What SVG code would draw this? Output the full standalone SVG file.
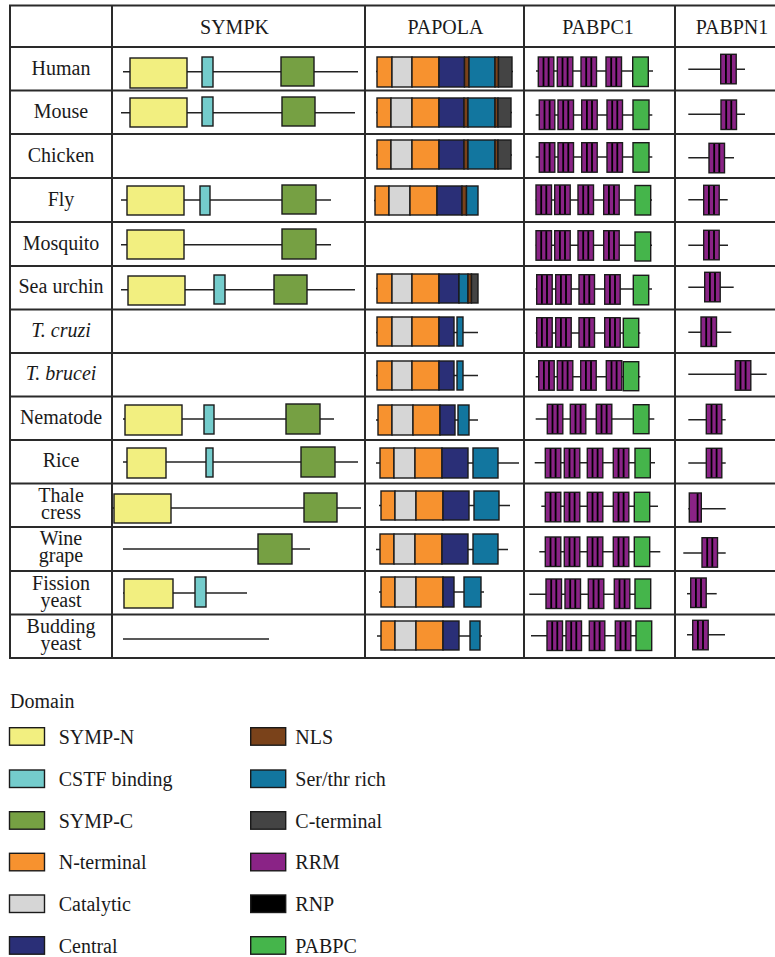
<svg xmlns="http://www.w3.org/2000/svg" xmlns:xlink="http://www.w3.org/1999/xlink" width="775" height="957" viewBox="0 0 775 957">
<style>
.t{font-family:"Liberation Serif","Times New Roman",serif;font-size:20px;fill:#1a1a1a}
.c{text-anchor:middle}
.i{font-style:italic}
.grid line{stroke:#2a2a2a;stroke-width:2}
.ln{stroke:#222;stroke-width:1.5}
rect.d{stroke:#1a1a1a;stroke-width:1.4}
.yn{fill:#f2ef80}.cy{fill:#74cccc}.gr{fill:#76a043}.or{fill:#f7922f}.ct{fill:#d6d6d6}.nv{fill:#2a2f77}
.br{fill:#7a421a}.tl{fill:#12769f}.dk{fill:#444444}.pu{fill:#8a2386}.bk{fill:#000}.pg{fill:#45b54b}
</style>
<defs>
<g id="rrm">
<rect class="d pu" x="0" y="0" width="15.5" height="29.5"/>
<rect class="bk" x="4.3" y="0.5" width="1.8" height="28.5"/>
<rect class="bk" x="9.4" y="0.5" width="1.8" height="28.5"/>
</g>
</defs>

<g id="grid" class="grid">
<line x1="9" y1="5.5" x2="775" y2="5.5"/>
<line x1="9" y1="47" x2="775" y2="47"/>
<line x1="9" y1="90.5" x2="775" y2="90.5"/>
<line x1="9" y1="134" x2="775" y2="134"/>
<line x1="9" y1="178" x2="775" y2="178"/>
<line x1="9" y1="222" x2="775" y2="222"/>
<line x1="9" y1="266" x2="775" y2="266"/>
<line x1="9" y1="309.5" x2="775" y2="309.5"/>
<line x1="9" y1="353" x2="775" y2="353"/>
<line x1="9" y1="396.5" x2="775" y2="396.5"/>
<line x1="9" y1="440" x2="775" y2="440"/>
<line x1="9" y1="483.5" x2="775" y2="483.5"/>
<line x1="9" y1="527" x2="775" y2="527"/>
<line x1="9" y1="571" x2="775" y2="571"/>
<line x1="9" y1="614.5" x2="775" y2="614.5"/>
<line x1="9" y1="658" x2="775" y2="658"/>
<line x1="10" y1="5.5" x2="10" y2="658"/>
<line x1="112" y1="5.5" x2="112" y2="658"/>
<line x1="365" y1="5.5" x2="365" y2="658"/>
<line x1="524" y1="5.5" x2="524" y2="658"/>
<line x1="675" y1="5.5" x2="675" y2="658"/>
</g>

<g id="headers" class="t c">
<text x="234.5" y="34">SYMPK</text>
<text x="445.5" y="34">PAPOLA</text>
<text x="598" y="34">PABPC1</text>
<text x="732" y="34">PABPN1</text>
</g>

<g id="species" class="t c">
<text x="61" y="75">Human</text>
<text x="61" y="118">Mouse</text>
<text x="61" y="162">Chicken</text>
<text x="61" y="206">Fly</text>
<text x="61" y="249.5">Mosquito</text>
<text x="61" y="293">Sea urchin</text>
<text x="61" y="336.5" class="i">T. cruzi</text>
<text x="61" y="380" class="i">T. brucei</text>
<text x="61" y="423.5">Nematode</text>
<text x="61" y="467">Rice</text>
<text x="61" y="502">Thale<tspan x="61" dy="17">cress</tspan></text>
<text x="61" y="545">Wine<tspan x="61" dy="17">grape</tspan></text>
<text x="61" y="590">Fission<tspan x="61" dy="17">yeast</tspan></text>
<text x="61" y="633">Budding<tspan x="61" dy="17">yeast</tspan></text>
</g>

<g id="sympk">
<g id="sympk-human"><line class="ln" x1="123" y1="71.7" x2="358" y2="71.7"/><rect class="d yn" x="130" y="58" width="57" height="30"/><rect class="d cy" x="202" y="57" width="11" height="30"/><rect class="d gr" x="281" y="57" width="33" height="29"/></g>
<g id="sympk-mouse"><line class="ln" x1="121" y1="112.7" x2="355" y2="112.7"/><rect class="d yn" x="130" y="98" width="57" height="29"/><rect class="d cy" x="202" y="97" width="11" height="29"/><rect class="d gr" x="282" y="97" width="33" height="29"/></g>
<g id="sympk-fly"><line class="ln" x1="121" y1="200" x2="331" y2="200"/><rect class="d yn" x="127" y="186" width="57" height="29"/><rect class="d cy" x="200" y="186" width="10" height="29"/><rect class="d gr" x="282" y="185" width="34" height="29"/></g>
<g id="sympk-mosquito"><line class="ln" x1="121" y1="244.7" x2="331" y2="244.7"/><rect class="d yn" x="127" y="230" width="57" height="29"/><rect class="d gr" x="282" y="229" width="34" height="30"/></g>
<g id="sympk-seaurchin"><line class="ln" x1="121" y1="289.7" x2="355" y2="289.7"/><rect class="d yn" x="128" y="276" width="57" height="29"/><rect class="d cy" x="214" y="275" width="11" height="29"/><rect class="d gr" x="274" y="275" width="33" height="29"/></g>
<g id="sympk-nematode"><line class="ln" x1="123" y1="419" x2="334" y2="419"/><rect class="d yn" x="125" y="405" width="57" height="30"/><rect class="d cy" x="204" y="405" width="10" height="29"/><rect class="d gr" x="286" y="404" width="34" height="30"/></g>
<g id="sympk-rice"><line class="ln" x1="123" y1="462" x2="358" y2="462"/><rect class="d yn" x="127" y="448" width="39" height="30"/><rect class="d cy" x="206" y="448" width="7" height="29"/><rect class="d gr" x="301" y="447" width="34" height="30"/></g>
<g id="sympk-thale"><line class="ln" x1="112" y1="508" x2="361" y2="508"/><rect class="d yn" x="114" y="494" width="57" height="29"/><rect class="d gr" x="304" y="493" width="33" height="29"/></g>
<g id="sympk-wine"><line class="ln" x1="123" y1="549" x2="310" y2="549"/><rect class="d gr" x="258" y="534" width="34" height="30"/></g>
<g id="sympk-fission"><line class="ln" x1="123" y1="593" x2="247" y2="593"/><rect class="d yn" x="124" y="579" width="49" height="29"/><rect class="d cy" x="195" y="577" width="11" height="30"/></g>
<g id="sympk-budding"><line class="ln" x1="123" y1="639" x2="269" y2="639"/></g>
</g>

<g id="papola">
<g id="papola-human"><line class="ln" x1="376" y1="71.5" x2="513" y2="71.5"/>
<rect class="d or" x="377" y="57" width="15" height="30"/><rect class="d ct" x="392" y="57" width="20" height="30"/><rect class="d or" x="412" y="57" width="27" height="30"/><rect class="d nv" x="439" y="57" width="25.5" height="30"/><rect class="d br" x="464.5" y="57" width="4.5" height="30"/><rect class="d tl" x="469" y="57" width="26" height="30"/><rect class="d br" x="495" y="57" width="3.5" height="30"/><rect class="d dk" x="498.5" y="57" width="13.5" height="30"/></g>
<g id="papola-mouse"><line class="ln" x1="376" y1="112.5" x2="512" y2="112.5"/>
<rect class="d or" x="377" y="98" width="14" height="29"/><rect class="d ct" x="391" y="98" width="21" height="29"/><rect class="d or" x="412" y="98" width="27" height="29"/><rect class="d nv" x="439" y="98" width="25" height="29"/><rect class="d br" x="464" y="98" width="4" height="29"/><rect class="d tl" x="468" y="98" width="27" height="29"/><rect class="d br" x="495" y="98" width="3" height="29"/><rect class="d dk" x="498" y="98" width="13" height="29"/></g>
<g id="papola-chicken"><line class="ln" x1="376" y1="155" x2="512" y2="155"/>
<rect class="d or" x="377" y="140" width="14" height="29"/><rect class="d ct" x="391" y="140" width="21" height="29"/><rect class="d or" x="412" y="140" width="27" height="29"/><rect class="d nv" x="439" y="140" width="25" height="29"/><rect class="d br" x="464" y="140" width="4" height="29"/><rect class="d tl" x="468" y="140" width="27" height="29"/><rect class="d br" x="495" y="140" width="3" height="29"/><rect class="d dk" x="498" y="140" width="13" height="29"/></g>
<g id="papola-fly"><line class="ln" x1="374" y1="200.5" x2="478" y2="200.5"/>
<rect class="d or" x="375" y="186" width="14" height="29"/><rect class="d ct" x="389" y="186" width="21" height="29"/><rect class="d or" x="410" y="186" width="27" height="29"/><rect class="d nv" x="437" y="186" width="25" height="29"/><rect class="d br" x="462" y="186" width="4.5" height="29"/><rect class="d tl" x="466.5" y="186" width="11.5" height="29"/></g>
<g id="papola-seaurchin"><line class="ln" x1="376" y1="288.5" x2="478" y2="288.5"/>
<rect class="d or" x="377" y="274" width="15" height="29"/><rect class="d ct" x="392" y="274" width="20" height="29"/><rect class="d or" x="412" y="274" width="27" height="29"/><rect class="d nv" x="439" y="274" width="20" height="29"/><rect class="d tl" x="459" y="274" width="9" height="29"/><rect class="d br" x="468" y="274" width="3.5" height="29"/><rect class="d dk" x="471.5" y="274" width="6.5" height="29"/></g>
<g id="papola-tcruzi"><line class="ln" x1="376" y1="332.5" x2="478" y2="332.5"/>
<rect class="d or" x="377" y="317" width="15" height="29"/><rect class="d ct" x="392" y="317" width="20" height="29"/><rect class="d or" x="412" y="317" width="27" height="29"/><rect class="d nv" x="439" y="317" width="15" height="29"/><rect class="d tl" x="457" y="317" width="6" height="29"/></g>
<g id="papola-tbrucei"><line class="ln" x1="376" y1="375.5" x2="478" y2="375.5"/>
<rect class="d or" x="377" y="361" width="15" height="29"/><rect class="d ct" x="392" y="361" width="20" height="29"/><rect class="d or" x="412" y="361" width="27" height="29"/><rect class="d nv" x="439" y="361" width="15" height="29"/><rect class="d tl" x="457" y="361" width="6" height="29"/></g>
<g id="papola-nematode"><line class="ln" x1="376" y1="420" x2="478" y2="420"/>
<rect class="d or" x="378" y="405" width="14" height="30"/><rect class="d ct" x="392" y="405" width="21" height="30"/><rect class="d or" x="413" y="405" width="27" height="30"/><rect class="d nv" x="440" y="405" width="15" height="30"/><rect class="d tl" x="458" y="405" width="11" height="30"/></g>
<g id="papola-rice"><line class="ln" x1="376" y1="463" x2="519" y2="463"/>
<rect class="d or" x="380" y="448" width="14" height="30"/><rect class="d ct" x="394" y="448" width="21" height="30"/><rect class="d or" x="415" y="448" width="27" height="30"/><rect class="d nv" x="442" y="448" width="26" height="30"/><rect class="d tl" x="473" y="448" width="25" height="30"/></g>
<g id="papola-thale"><line class="ln" x1="379" y1="505.5" x2="510" y2="505.5"/>
<rect class="d or" x="381" y="491" width="14" height="29"/><rect class="d ct" x="395" y="491" width="21" height="29"/><rect class="d or" x="416" y="491" width="27" height="29"/><rect class="d nv" x="443" y="491" width="26" height="29"/><rect class="d tl" x="474" y="491" width="25" height="29"/></g>
<g id="papola-wine"><line class="ln" x1="376" y1="549.5" x2="508" y2="549.5"/>
<rect class="d or" x="380" y="534" width="14" height="30"/><rect class="d ct" x="394" y="534" width="21" height="30"/><rect class="d or" x="415" y="534" width="27" height="30"/><rect class="d nv" x="442" y="534" width="26" height="30"/><rect class="d tl" x="473" y="534" width="25" height="30"/></g>
<g id="papola-fission"><line class="ln" x1="379" y1="592" x2="484" y2="592"/>
<rect class="d or" x="381" y="577" width="14" height="30"/><rect class="d ct" x="395" y="577" width="21" height="30"/><rect class="d or" x="416" y="577" width="27" height="30"/><rect class="d nv" x="443" y="577" width="11" height="30"/><rect class="d tl" x="464" y="577" width="17" height="30"/></g>
<g id="papola-budding"><line class="ln" x1="377" y1="636" x2="482" y2="636"/>
<rect class="d or" x="381" y="621" width="14" height="29"/><rect class="d ct" x="395" y="621" width="21" height="29"/><rect class="d or" x="416" y="621" width="27" height="29"/><rect class="d nv" x="443" y="621" width="16" height="29"/><rect class="d tl" x="470" y="621" width="10" height="29"/></g>
</g>

<g id="pabpc1">
<g id="pabpc1-human"><line class="ln" x1="536" y1="71" x2="653" y2="71"/><use href="#rrm" x="538.3" y="57"/><use href="#rrm" x="557.3" y="57"/><use href="#rrm" x="581" y="57"/><use href="#rrm" x="606" y="57"/><rect class="d pg" x="632.7" y="57" width="15.6" height="29.5"/></g>
<g id="pabpc1-mouse"><line class="ln" x1="535.7" y1="115" x2="652.3" y2="115"/><use href="#rrm" x="539.3" y="100"/><use href="#rrm" x="558" y="100"/><use href="#rrm" x="581.7" y="100"/><use href="#rrm" x="607" y="100"/><rect class="d pg" x="633" y="100" width="16" height="29.5"/></g>
<g id="pabpc1-chicken"><line class="ln" x1="535.7" y1="157" x2="652.3" y2="157"/><use href="#rrm" x="539.3" y="142.7"/><use href="#rrm" x="558" y="142.7"/><use href="#rrm" x="581.7" y="142.7"/><use href="#rrm" x="607" y="142.7"/><rect class="d pg" x="633" y="142.7" width="16" height="29.5"/></g>
<g id="pabpc1-fly"><line class="ln" x1="535.7" y1="200" x2="652" y2="200"/><use href="#rrm" x="536" y="185"/><use href="#rrm" x="554.7" y="185"/><use href="#rrm" x="578" y="185"/><use href="#rrm" x="603.7" y="185"/><rect class="d pg" x="635" y="185.5" width="15.7" height="29.5"/></g>
<g id="pabpc1-mosquito"><line class="ln" x1="535.7" y1="245.3" x2="652" y2="245.3"/><use href="#rrm" x="536" y="230.7"/><use href="#rrm" x="554.7" y="230.7"/><use href="#rrm" x="578" y="230.7"/><use href="#rrm" x="603.7" y="230.7"/><rect class="d pg" x="635" y="232" width="15.7" height="29"/></g>
<g id="pabpc1-seaurchin"><line class="ln" x1="535.7" y1="289" x2="652" y2="289"/><use href="#rrm" x="536.7" y="274.7"/><use href="#rrm" x="555.7" y="274.7"/><use href="#rrm" x="579" y="274.7"/><use href="#rrm" x="604.7" y="274.7"/><rect class="d pg" x="633.3" y="275.3" width="15.4" height="29.5"/></g>
<g id="pabpc1-tcruzi"><line class="ln" x1="535.7" y1="333" x2="640.3" y2="333"/><use href="#rrm" x="536.7" y="317.7"/><use href="#rrm" x="555.7" y="317.7"/><use href="#rrm" x="579" y="317.7"/><use href="#rrm" x="604.7" y="317.7"/><rect class="d pg" x="623.3" y="318.3" width="15.4" height="29"/></g>
<g id="pabpc1-tbrucei"><line class="ln" x1="535.7" y1="376.7" x2="640.3" y2="376.7"/><use href="#rrm" x="538.7" y="360.7"/><use href="#rrm" x="557.3" y="360.7"/><use href="#rrm" x="580.7" y="360.7"/><use href="#rrm" x="606.3" y="360.7"/><rect class="d pg" x="623.3" y="361.7" width="15.4" height="29"/></g>
<g id="pabpc1-nematode"><line class="ln" x1="535.7" y1="419" x2="654.3" y2="419"/><use href="#rrm" x="547.3" y="404.3"/><use href="#rrm" x="570.3" y="404.3"/><use href="#rrm" x="596.3" y="404.3"/><rect class="d pg" x="633.3" y="404.7" width="15.7" height="29"/></g>
<g id="pabpc1-rice"><line class="ln" x1="534.7" y1="462.7" x2="655" y2="462.7"/><use href="#rrm" x="545.3" y="448.3"/><use href="#rrm" x="564.3" y="448.3"/><use href="#rrm" x="587.3" y="448.3"/><use href="#rrm" x="613.3" y="448.3"/><rect class="d pg" x="635" y="448.3" width="15.3" height="29.5"/></g>
<g id="pabpc1-thale"><line class="ln" x1="541.3" y1="506.3" x2="658" y2="506.3"/><use href="#rrm" x="545.3" y="492.3"/><use href="#rrm" x="564.3" y="492.3"/><use href="#rrm" x="587.3" y="492.3"/><use href="#rrm" x="613.3" y="492.3"/><rect class="d pg" x="634.3" y="492.3" width="15.4" height="29.5"/></g>
<g id="pabpc1-wine"><line class="ln" x1="539.3" y1="551.7" x2="660.3" y2="551.7"/><use href="#rrm" x="545.3" y="537"/><use href="#rrm" x="564.3" y="537"/><use href="#rrm" x="587.3" y="537"/><use href="#rrm" x="613.3" y="537"/><rect class="d pg" x="634.3" y="537" width="15.4" height="29.5"/></g>
<g id="pabpc1-fission"><line class="ln" x1="529.3" y1="594.3" x2="635" y2="594.3"/><use href="#rrm" x="546" y="579"/><use href="#rrm" x="565" y="579"/><use href="#rrm" x="588.3" y="579"/><use href="#rrm" x="614.3" y="579"/><rect class="d pg" x="635" y="579" width="15.7" height="29.5"/></g>
<g id="pabpc1-budding"><line class="ln" x1="531" y1="635.7" x2="636" y2="635.7"/><use href="#rrm" x="547" y="621"/><use href="#rrm" x="566" y="621"/><use href="#rrm" x="589.3" y="621"/><use href="#rrm" x="615.3" y="621"/><rect class="d pg" x="636" y="621" width="15.7" height="29.5"/></g>
</g>

<g id="pabpn1">
<g id="pabpn1-human"><line class="ln" x1="688.3" y1="69.3" x2="745" y2="69.3"/><use href="#rrm" x="720.7" y="54.3"/></g>
<g id="pabpn1-mouse"><line class="ln" x1="688.3" y1="114.3" x2="745" y2="114.3"/><use href="#rrm" x="721" y="100"/></g>
<g id="pabpn1-chicken"><line class="ln" x1="688.3" y1="157.7" x2="734" y2="157.7"/><use href="#rrm" x="709" y="143.3"/></g>
<g id="pabpn1-fly"><line class="ln" x1="688.3" y1="199.7" x2="727.7" y2="199.7"/><use href="#rrm" x="703.7" y="185.3"/></g>
<g id="pabpn1-mosquito"><line class="ln" x1="688.3" y1="245.3" x2="728" y2="245.3"/><use href="#rrm" x="703.7" y="230.3"/></g>
<g id="pabpn1-seaurchin"><line class="ln" x1="688.3" y1="287.3" x2="733.7" y2="287.3"/><use href="#rrm" x="704.7" y="272.3"/></g>
<g id="pabpn1-tcruzi"><line class="ln" x1="688.3" y1="332.3" x2="731.3" y2="332.3"/><use href="#rrm" x="701" y="317"/></g>
<g id="pabpn1-tbrucei"><line class="ln" x1="688.3" y1="374.3" x2="766.7" y2="374.3"/><use href="#rrm" x="735.3" y="360.7"/></g>
<g id="pabpn1-nematode"><line class="ln" x1="688.3" y1="419.7" x2="725.7" y2="419.7"/><use href="#rrm" x="706.3" y="404.3"/></g>
<g id="pabpn1-rice"><line class="ln" x1="688.3" y1="463" x2="725.7" y2="463"/><use href="#rrm" x="706.3" y="448.3"/></g>
<g id="pabpn1-thale"><line class="ln" x1="688.3" y1="508.7" x2="725.7" y2="508.7"/><rect class="d pu" x="689.3" y="493" width="12" height="29"/><rect class="bk" x="696.7" y="493.5" width="1.8" height="28"/></g>
<g id="pabpn1-wine"><line class="ln" x1="683.3" y1="553" x2="725.7" y2="553"/><use href="#rrm" x="702" y="537.7"/></g>
<g id="pabpn1-fission"><line class="ln" x1="687" y1="593.7" x2="716.7" y2="593.7"/><use href="#rrm" x="690.7" y="578"/></g>
<g id="pabpn1-budding"><line class="ln" x1="687" y1="634.7" x2="725" y2="634.7"/><use href="#rrm" x="692.7" y="620.3"/></g>
</g>

<g id="legend">
<text class="t" x="10" y="708">Domain</text>
<g id="lg-sympn"><rect class="d yn" x="9.5" y="727.7" width="35" height="17.5"/><text class="t" x="58.7" y="743.5">SYMP-N</text></g>
<g id="lg-cstf"><rect class="d cy" x="9.5" y="770" width="35" height="17.5"/><text class="t" x="58.7" y="785.5">CSTF binding</text></g>
<g id="lg-sympc"><rect class="d gr" x="9.5" y="811.7" width="35" height="17.5"/><text class="t" x="58.7" y="827.5">SYMP-C</text></g>
<g id="lg-nterm"><rect class="d or" x="9.5" y="853.3" width="35" height="17.5"/><text class="t" x="58.7" y="869">N-terminal</text></g>
<g id="lg-cat"><rect class="d ct" x="9.5" y="895" width="35" height="17.5"/><text class="t" x="58.7" y="911">Catalytic</text></g>
<g id="lg-central"><rect class="d nv" x="9.5" y="936.7" width="35" height="17.5"/><text class="t" x="58.7" y="952.5">Central</text></g>
<g id="lg-nls"><rect class="d br" x="250.7" y="727.7" width="35" height="17.5"/><text class="t" x="295.3" y="743.5">NLS</text></g>
<g id="lg-ser"><rect class="d tl" x="250.7" y="770" width="35" height="17.5"/><text class="t" x="295.3" y="785.5">Ser/thr rich</text></g>
<g id="lg-cterm"><rect class="d dk" x="250.7" y="811.7" width="35" height="17.5"/><text class="t" x="295.3" y="827.5">C-terminal</text></g>
<g id="lg-rrm"><rect class="d pu" x="250.7" y="853.3" width="35" height="17.5"/><text class="t" x="295.3" y="869">RRM</text></g>
<g id="lg-rnp"><rect class="d bk" x="250.7" y="895" width="35" height="17.5"/><text class="t" x="295.3" y="911">RNP</text></g>
<g id="lg-pabpc"><rect class="d pg" x="250.7" y="936.7" width="35" height="17.5"/><text class="t" x="295.3" y="952.5">PABPC</text></g>
</g>
</svg>
